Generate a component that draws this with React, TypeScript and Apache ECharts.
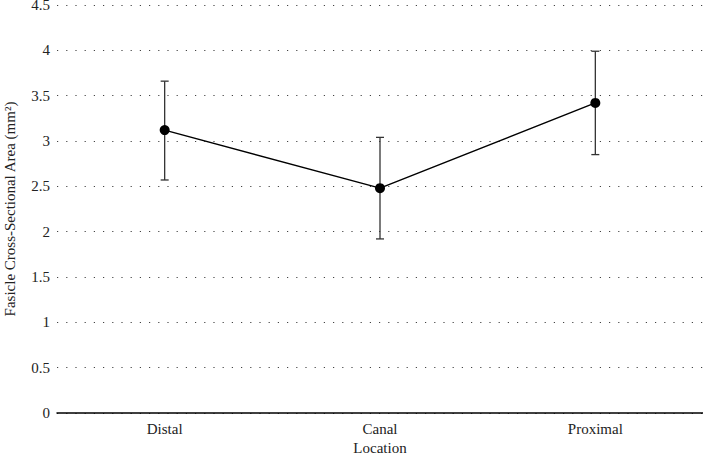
import React, { useEffect, useRef } from "react";
import * as echarts from "echarts";

const categories = ["Distal", "Canal", "Proximal"];
const means = [3.12, 2.48, 3.42];
const lowers = [2.57, 1.92, 2.85];
const uppers = [3.66, 3.04, 3.99];
const yTicks = { min: 0, max: 4.5, interval: 0.5 };

const FONT = "'Liberation Serif', 'DejaVu Serif', serif";

export default function App() {
  const ref = useRef<HTMLDivElement>(null);
  useEffect(() => {
    if (!ref.current) return;
    const chart = echarts.init(ref.current, undefined, { renderer: "svg" });
    const errData = categories.map((c, i) => [i, lowers[i], uppers[i]]);
    chart.setOption({
      animation: false,
      backgroundColor: "#ffffff",
      textStyle: { fontFamily: FONT },
      grid: { left: 57, right: 0, top: 5, bottom: 43, containLabel: false, outerBoundsMode: "none" },
      xAxis: {
        type: "category",
        data: categories,
        boundaryGap: true,
        axisTick: { show: false },
        axisLine: { lineStyle: { color: "#000", width: 1.5 } },
        axisLabel: { color: "#222", fontSize: 15, margin: 8, fontFamily: FONT },
        name: "Location",
        nameLocation: "middle",
        nameGap: 27,
        nameTextStyle: { color: "#222", fontSize: 15, fontFamily: FONT },
        splitLine: { show: false },
      },
      yAxis: {
        type: "value",
        min: yTicks.min,
        max: yTicks.max,
        interval: yTicks.interval,
        axisLine: { show: false },
        axisTick: { show: false },
        axisLabel: { color: "#222", fontSize: 15, margin: 7, fontFamily: FONT },
        splitLine: {
          show: true,
          lineStyle: { color: "#444", width: 1, type: [1.2, 8] },
        },
        name: "Fasicle Cross-Sectional Area (mm²)",
        nameLocation: "middle",
        nameGap: 40,
        nameTextStyle: { color: "#222", fontSize: 15, fontFamily: FONT },
      },
      series: [
        {
          type: "custom",
          data: errData,
          z: 1,
          renderItem: (params: any, api: any) => {
            const x = api.value(0);
            const lo = api.coord([x, api.value(1)]);
            const hi = api.coord([x, api.value(2)]);
            const hw = 4;
            const style = { stroke: "#333", lineWidth: 1.3 };
            return {
              type: "group",
              children: [
                { type: "line", shape: { x1: lo[0], y1: lo[1], x2: hi[0], y2: hi[1] }, style },
                { type: "line", shape: { x1: hi[0] - hw, y1: hi[1], x2: hi[0] + hw, y2: hi[1] }, style },
                { type: "line", shape: { x1: lo[0] - hw, y1: lo[1], x2: lo[0] + hw, y2: lo[1] }, style },
              ],
            };
          },
        },
        {
          type: "line",
          data: means,
          z: 3,
          symbol: "circle",
          symbolSize: 10,
          itemStyle: { color: "#000" },
          lineStyle: { color: "#000", width: 1.5 },
        },
      ],
    });
    return () => chart.dispose();
  }, []);
  return (
    <div
      ref={ref}
      style={{ position: "fixed", left: 0, top: 0, width: 703, height: 456 }}
    />
  );
}
